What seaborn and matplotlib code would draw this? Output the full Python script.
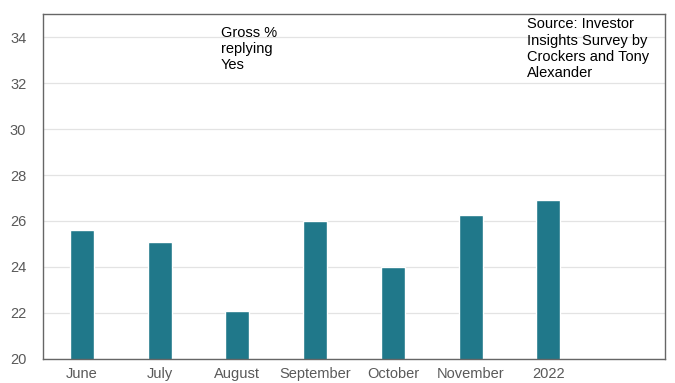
import matplotlib
matplotlib.use("Agg")
import matplotlib.pyplot as plt
import seaborn as sns
import pandas as pd

categories = ["June", "July", "August", "September", "October", "November", "2022"]
values = [25.6, 25.08, 22.08, 26.02, 24.02, 26.25, 26.92]
slots = categories + [" "]
yticks = [20, 22, 24, 26, 28, 30, 32, 34]

sns.set_theme(style="white")
plt.rcParams["font.family"] = ["Liberation Sans", "DejaVu Sans"]

df = pd.DataFrame({"cat": categories, "val": values})

fig = plt.figure(figsize=(6.75, 3.83), dpi=100)
ax = fig.add_axes([0.0637, 0.0627, 0.9215, 0.9007])
sns.barplot(data=df, x="cat", y="val", order=slots, color="#20788A",
            saturation=1, width=0.31, ax=ax)
ax.set_xlim(-0.5, 7.5)
ax.set_ylim(20, 35)
ax.set_yticks(yticks)
ax.yaxis.grid(True, color="#e3e3e3", linewidth=0.9)
ax.set_axisbelow(True)
ax.set_xlabel("")
ax.set_ylabel("")
for s in ax.spines.values():
    s.set_visible(True)
    s.set_color("#666666")
    s.set_linewidth(1.0)
ax.tick_params(axis="both", length=0, labelsize=10.5, colors="#595959")
ax.tick_params(axis="x", pad=6)
ax.tick_params(axis="y", pad=12)
ax.text(0.286, 0.965, "Gross %\nreplying\nYes", transform=ax.transAxes,
        ha="left", va="top", fontsize=10.5, color="#000000", linespacing=1.2)
ax.text(0.778, 0.99, "Source: Investor\nInsights Survey by\nCrockers and Tony\nAlexander",
        transform=ax.transAxes, ha="left", va="top", fontsize=10.5,
        color="#000000", linespacing=1.2)
fig.savefig("out.png", dpi=100)
